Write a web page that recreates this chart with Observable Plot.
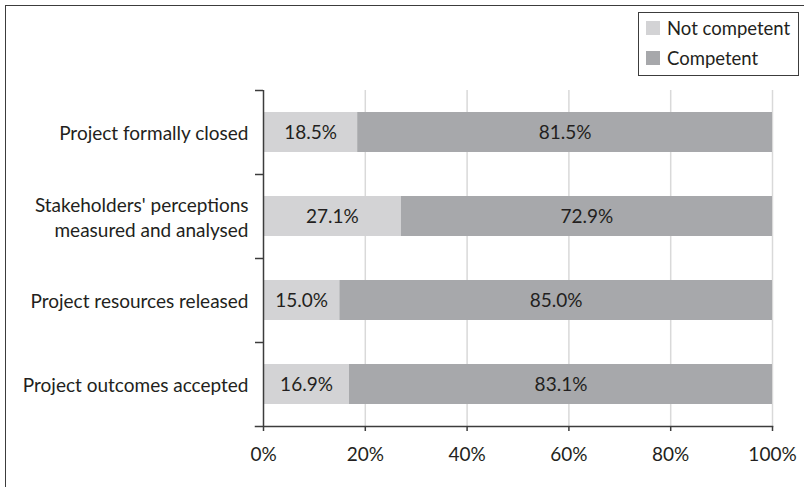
<!DOCTYPE html>
<html>
<head>
<meta charset="utf-8">
<script src="https://cdn.jsdelivr.net/npm/d3@7"></script>
<script src="https://cdn.jsdelivr.net/npm/@observablehq/plot@0.6"></script>
<style>
  html, body { margin: 0; padding: 0; background: #fff; }
  body { width: 804px; height: 487px; position: relative; overflow: hidden; font-family: Lato, "Open Sans", sans-serif; color: #231f20; }
  #frame { position: absolute; left: 5px; top: 5px; width: 820px; height: 520px; border: 1.5px solid #3c3c3c; box-sizing: border-box; pointer-events: none; }
  #chart { position: absolute; left: 0; top: 0; }
  #legend { position: absolute; left: 638px; top: 12px; width: 161px; height: 64px; border: 1px solid #3c3c3c; box-sizing: border-box; background: #fff; font-size: 18.5px; }
  #legend .item { position: absolute; left: 7px; display: flex; align-items: center; line-height: 22px; }
  #legend .sw { width: 14px; height: 14px; margin-right: 7px; }
</style>
</head>
<body>
<div id="chart"></div>
<div id="frame"></div>
<div id="legend"></div>
<script>
const categories = [
  "Project formally closed",
  "Stakeholders' perceptions\nmeasured and analysed",
  "Project resources released",
  "Project outcomes accepted"
];
const seriesNames = ["Not competent", "Competent"];
const notCompetent = [18.5, 27.1, 15.0, 16.9];
const competent = [81.5, 72.9, 85.0, 83.1];
const xTicks = [0, 20, 40, 60, 80, 100];
const gridTicks = [20, 40, 60, 80, 100];
const colors = ["#d3d3d5", "#a7a8ab"];

const data = categories.flatMap((c, i) => [
  {cat: c, s: seriesNames[0], v: notCompetent[i]},
  {cat: c, s: seriesNames[1], v: competent[i]}
]);

const W = 804, H = 487;
const mt = 90, mb = 61, ml = 263, mr = 32;
const step = (H - mt - mb) / categories.length;
const FS = 19;

const plot = Plot.plot({
  width: W,
  height: H,
  marginTop: mt,
  marginBottom: mb,
  marginLeft: ml,
  marginRight: mr,
  style: {fontSize: FS + "px", fontFamily: "Lato, 'Open Sans', sans-serif", color: "#231f20", background: "transparent"},
  x: {domain: [0, 100]},
  y: {domain: categories, paddingInner: 0.52, paddingOuter: 0.26, label: null},
  color: {domain: seriesNames, range: colors},
  marks: [
    Plot.ruleX(gridTicks, {stroke: "#d9d9d9", strokeWidth: 1.5}),
    Plot.barX(data, Plot.stackX({x: "v", y: "cat", fill: "s", z: "s", order: seriesNames})),
    Plot.text(data, Plot.stackX({x: "v", y: "cat", z: "s", order: seriesNames, text: d => d.v.toFixed(1) + "%", fill: "#231f20", fontSize: FS})),
    Plot.ruleX([0], {stroke: "#3c3c3c", strokeWidth: 1.5}),
    Plot.axisY({tickSize: 0, tickPadding: 15, lineHeight: 1.3, fontSize: FS, label: null}),
    Plot.axisY({tickSize: 8, dy: -step / 2, stroke: "#3c3c3c", strokeWidth: 1.5, label: null, tickFormat: () => ""}),
    Plot.frame({anchor: "bottom", stroke: "#3c3c3c", strokeWidth: 1.5, insetLeft: -8}),
    Plot.axisX({ticks: xTicks, tickFormat: d => d + "%", tickSize: 5, tickPadding: 16, stroke: "#3c3c3c", strokeWidth: 1.5, fontSize: FS, label: null})
  ]
});
document.getElementById("chart").appendChild(plot);

const legend = document.getElementById("legend");
seriesNames.forEach((name, i) => {
  const item = document.createElement("div");
  item.className = "item";
  item.style.top = (i === 0 ? 4 : 34) + "px";
  const sw = document.createElement("span");
  sw.className = "sw";
  sw.style.background = colors[i];
  const t = document.createElement("span");
  t.textContent = name;
  item.appendChild(sw);
  item.appendChild(t);
  legend.appendChild(item);
});
</script>
</body>
</html>
